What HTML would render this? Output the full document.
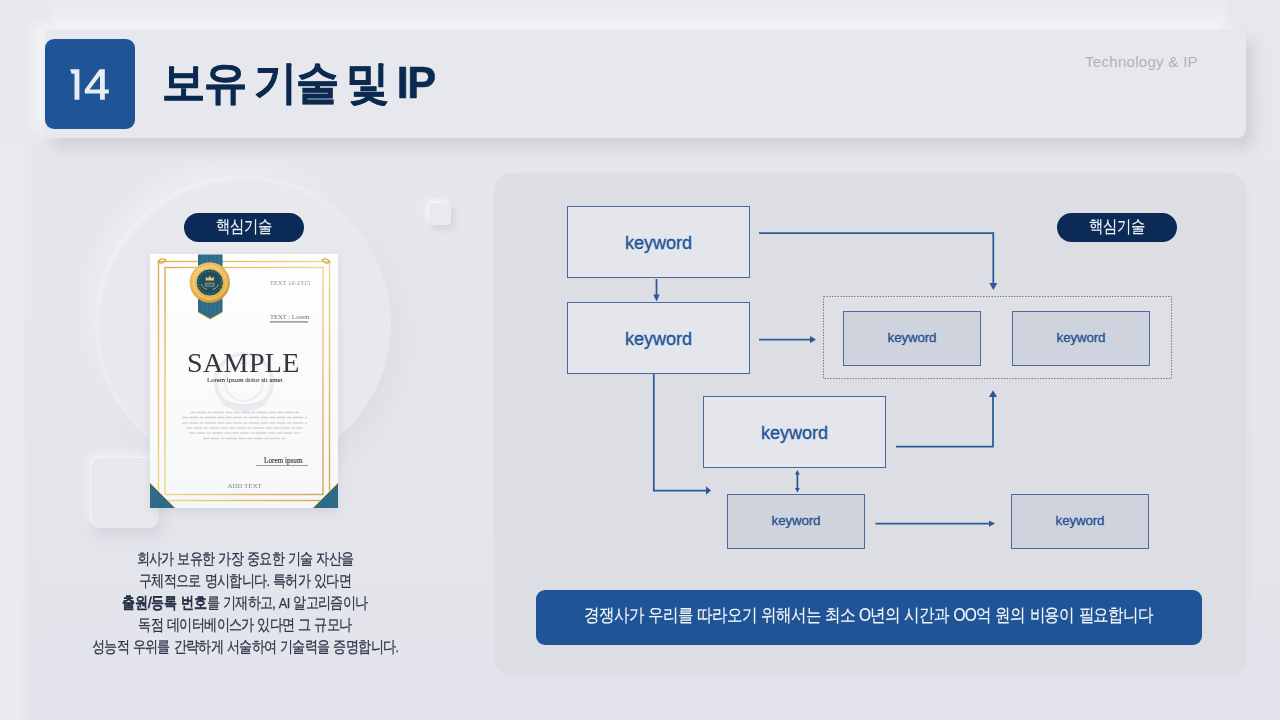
<!DOCTYPE html>
<html><head><meta charset="utf-8">
<style>
*{margin:0;padding:0;box-sizing:border-box}
html,body{width:1280px;height:720px;overflow:hidden}
body{position:relative;background:linear-gradient(#e7e8ec,#e3e4eb);font-family:"Liberation Sans",sans-serif}
.abs{position:absolute}
#topband{left:50px;top:-6px;width:1176px;height:36px;border-radius:0 0 14px 14px;background:linear-gradient(#e8e9ed,#eceef1 65%,#eef0f3);filter:blur(3px)}
#hdr{left:45px;top:30px;width:1201px;height:108px;background:#e7e8ed;border-radius:0 9px 9px 0;
 box-shadow:8px 10px 14px rgba(176,179,191,.42),-14px -6px 16px rgba(255,255,255,.5)}
#num{left:45px;top:39px;width:90px;height:90px;background:#1f5496;border-radius:9px;color:#eef1f6;
 font-size:44px;text-align:center;line-height:92px;letter-spacing:-3px;text-indent:-3px;-webkit-text-stroke:.7px #eef1f6}
#title{left:162px;top:53px;font-size:45px;font-weight:bold;color:#0c2a50;letter-spacing:-1.5px;word-spacing:-2px;white-space:nowrap;line-height:normal;transform-origin:0 0;transform:scaleX(.96);-webkit-text-stroke:.6px #0c2a50}
#tech{left:1085px;top:53px;font-size:15px;color:#b0b2b9;white-space:nowrap;letter-spacing:0.3px}
.pill{width:120px;height:29px;border-radius:15px;background:#0b2b56;color:#eef2f8;font-size:17px;text-align:center;line-height:28px;letter-spacing:-0.5px}
.pill span{display:inline-block;transform:scaleX(.84);-webkit-text-stroke:.15px #eef2f8}
#circle{left:95px;top:176px;width:296px;height:296px;border-radius:50%;background:#e8e9ed;
 box-shadow:8px 10px 22px rgba(190,193,203,.22),-8px -8px 20px rgba(255,255,255,.35),inset 3px 3px 4px rgba(255,255,255,.35)}
#sq1{left:429px;top:203px;width:22px;height:22px;border-radius:4px;background:#e9eaee;
 box-shadow:3px 4px 6px rgba(175,178,190,.35),-3px -3px 5px rgba(255,255,255,.7)}
#sq2{left:90px;top:457px;width:69px;height:71px;border-radius:10px;background:#e8e9ee;
 box-shadow:4px 8px 12px rgba(180,183,195,.3),-4px -4px 8px rgba(255,255,255,.45),inset 1px 1px 1px rgba(255,255,255,.6)}
#rpanel{left:494px;top:173px;width:752px;height:503px;background:#dcdee4;border-radius:19px;filter:blur(.6px);
 box-shadow:2px 2px 5px rgba(200,202,212,.15)}
.box{position:absolute;border:1px solid #4669a5;color:#22559a;text-align:center;-webkit-text-stroke:0.35px #22559a}
.big{width:183px;height:72px;background:#e4e6ec;font-size:18px;line-height:72px}
.small{width:138px;height:55px;background:#ced3dd;font-size:13.3px;line-height:52px;border-width:1.3px;border-color:#4f6b99;color:#23508f;-webkit-text-stroke:0.3px #23508f;letter-spacing:-.1px}
#para{left:-55px;top:547.5px;width:600px;text-align:center;font-size:15.5px;line-height:22.2px;color:#2c3649;letter-spacing:-0.8px;word-spacing:1px;transform-origin:300px 0;transform:scaleX(.816);-webkit-text-stroke:.25px #2c3649}
#para b{color:#1f2b42;font-weight:normal;-webkit-text-stroke:.8px #1f2b42;letter-spacing:-.3px}
#banner{left:536px;top:590px;width:666px;height:55px;background:#1f5496;border-radius:9px;color:#f4f6fa;font-size:18px;text-align:center;line-height:51px;letter-spacing:-0.8px;word-spacing:1px;white-space:nowrap}
#banner span{display:inline-block;transform:scaleX(.862);-webkit-text-stroke:.15px #f4f6fa}
svg{position:absolute;left:0;top:0}
</style></head>
<body>
<div id="topband" class="abs"></div>
<div class="abs" style="left:-10px;top:140px;width:34px;height:600px;background:#eaebef;filter:blur(6px)"></div>
<div id="circle" class="abs"></div>
<div id="sq1" class="abs"></div>
<div id="sq2" class="abs"></div>
<div id="hdr" class="abs"></div>
<div id="num" class="abs"></div>
<svg width="1280" height="140" viewBox="0 0 1280 140"><g fill="#e9edf3" fill-rule="evenodd">
 <path d="M70.2 69.3 H79.4 V99.8 H74.5 V73.8 H71.6 Z"/>
 <path d="M99.6 69.3 H104.8 V89.6 H108.8 V93.4 H104.8 V99.8 H100 V93.4 H84.8 V89.6 Z M100 75.8 V89.6 H89.6 Z"/>
</g></svg>
<div id="title" class="abs">보유 기술 및 IP</div>
<div id="tech" class="abs">Technology &amp; IP</div>

<div id="rpanel" class="abs"></div>

<div class="pill abs" style="left:184px;top:213px"><span>핵심기술</span></div>
<div class="pill abs" style="left:1057px;top:213px"><span>핵심기술</span></div>

<svg width="1280" height="720" viewBox="0 0 1280 720" style="filter:drop-shadow(0 3px 5px rgba(150,155,170,.25))">
 <defs>
  <linearGradient id="paper" x1="0" y1="0" x2="0" y2="1"><stop offset="0" stop-color="#fefefe"/><stop offset="1" stop-color="#f6f7f8"/></linearGradient>
  <linearGradient id="gold" x1="0" y1="0" x2="1" y2="1"><stop offset="0" stop-color="#d9ad5c"/><stop offset=".5" stop-color="#f2d784"/><stop offset="1" stop-color="#d2a552"/></linearGradient>
  <radialGradient id="med" cx=".45" cy=".4" r=".65"><stop offset="0" stop-color="#fbe3a0"/><stop offset=".7" stop-color="#eab552"/><stop offset="1" stop-color="#c98f2e"/></radialGradient>
 </defs>
 <rect x="150" y="254" width="188" height="254" fill="url(#paper)"/>
 <!-- watermark -->
 <circle cx="244" cy="382" r="28" fill="none" stroke="#ebecef" stroke-width="4"/><circle cx="244" cy="382" r="19" fill="none" stroke="#eeeff2" stroke-width="2"/><path d="M226 400 q18 8 36 0 l3 5 q-21 9 -42 0 z" fill="#e8e9ec"/>
 <g fill="none" stroke="url(#gold)" stroke-width="1.4">
  <rect x="158.5" y="261.5" width="171" height="239"/>
  <rect x="165" y="267.5" width="158" height="227"/>
 </g>
 <g fill="none" stroke="#d9a840" stroke-width="1.2">
  <path d="M158 262 q3 -5 8 -2 q-3 5 -8 2 z"/>
  <path d="M330 262 q-3 -5 -8 -2 q3 5 8 2 z"/>
 </g>
 <!-- ribbon -->
 <path d="M198 254.5 H222.5 V312 L210.3 319 L198 312 Z" fill="#2d6b87"/>
 <path d="M203 254.5 V311 M207 254.5 V313 M211 254.5 V313 M215 254.5 V313 M219 254.5 V311" stroke="#3a7c98" stroke-width="1"/>
 <path d="M198 312 L210.3 319 L222.5 312" fill="none" stroke="#d9a840" stroke-width="1"/>
 <circle cx="209.8" cy="282.5" r="20.2" fill="url(#med)"/>
 <circle cx="209.8" cy="282.5" r="16.5" fill="none" stroke="#f6d98e" stroke-width="1" opacity=".8"/>
 <circle cx="209.8" cy="282.5" r="13.6" fill="#1c4e60" stroke="#e9b955" stroke-width="1"/>
 <circle cx="209.8" cy="282.5" r="11.3" fill="none" stroke="#d8b25e" stroke-width="1" stroke-dasharray=".8 2.2" opacity=".8"/>
 <path d="M205.5 280.5 L206 276.5 L208 278.5 L209.8 275.5 L211.6 278.5 L213.6 276.5 L214.1 280.5 Z" fill="#f0c765"/>
 <rect x="205.5" y="283" width="8.6" height="3.2" fill="#3c6f82" stroke="#d9b460" stroke-width=".5"/>
 <path d="M201 284 q2 5 6 5.5 M218.6 284 q-2 5 -6 5.5" fill="none" stroke="#c9a24e" stroke-width=".9"/>
 <!-- texts -->
 <g font-family="Liberation Serif" fill="#8a8c92">
  <text x="270" y="285" font-size="6" letter-spacing=".3">TEXT 10-2315</text>
  <text x="270" y="318.5" font-size="6.6" fill="#6d6f75">TEXT : Lorem</text>
  <text x="207" y="382" font-size="6.8" fill="#45474f" stroke="#45474f" stroke-width=".12">Lorem ipsum dolor sit amet</text>
  <text x="264" y="462.5" font-size="7.2" fill="#3a3c44" stroke="#3a3c44" stroke-width=".15">Lorem ipsum</text>
  <text x="227.5" y="488" font-size="6.9" fill="#85878d">ADD TEXT</text>
 </g>
 <rect x="270" y="321" width="38" height="1.8" fill="#a4a6ab"/>
 <rect x="256" y="465" width="52" height="1" fill="#9a9ca2"/>
 <text x="187" y="371.5" font-family="Liberation Serif" font-size="28" fill="#34363c" letter-spacing=".4">SAMPLE</text>
 <g stroke="#d2d3d7" stroke-width="1.5" stroke-dasharray="6 1.2 9 1.5 4 1.2 11 1.5 7 1.3">
  <path d="M190 412.5 H299 M182 417.5 H307 M182 423 H307 M186 428 H303 M189 433 H301 M203 438.5 H285"/>
 </g>
 <!-- bottom corners -->
 <path d="M150 483 L150 508 L175 508 Z" fill="#2d6b87"/>
 <path d="M338 483 L338 508 L313 508 Z" fill="#2d6b87"/>
 <path d="M150 483 L175 508 M338 483 L313 508" stroke="#d9b15a" stroke-width="1"/>
</svg>


<div id="para" class="abs">회사가 보유한 가장 중요한 기술 자산을<br>구체적으로 명시합니다. 특허가 있다면<br><b>출원/등록 번호</b>를 기재하고, AI 알고리즘이나<br>독점 데이터베이스가 있다면 그 규모나<br>성능적 우위를 간략하게 서술하여 기술력을 증명합니다.</div>

<svg width="1280" height="720" viewBox="0 0 1280 720"><rect x="823.5" y="296.5" width="348" height="82" fill="rgba(228,230,236,.35)" stroke="#6f7685" stroke-width="1" stroke-dasharray="1.4 1.4"/></svg>
<div class="box big" style="left:567px;top:206px">keyword</div>
<div class="box big" style="left:567px;top:302px">keyword</div>
<div class="box big" style="left:703px;top:396px">keyword</div>
<div class="box small" style="left:843px;top:311px">keyword</div>
<div class="box small" style="left:1012px;top:311px">keyword</div>
<div class="box small" style="left:727px;top:494px">keyword</div>
<div class="box small" style="left:1011px;top:494px">keyword</div>

<svg width="1280" height="720" viewBox="0 0 1280 720">
 <g fill="none" stroke="#2b5897" stroke-width="1.75">
  <path d="M656.5 279 V296"/>
  <path d="M759 233 H993.3 V284"/>
  <path d="M759 339.6 H811"/>
  <path d="M896 446.6 H993 V396"/>
  <path d="M653.8 374 V490.5 H707"/>
  <path d="M797.4 473 V489.5"/>
  <path d="M875.5 523.6 H990"/>
 </g>
 <g fill="#2b5897">
  <path d="M653.3 294.5 L659.7 294.5 L656.5 301.5 Z"/>
  <path d="M989.3 283 L997.3 283 L993.3 290 Z"/>
  <path d="M810 336 L816 339.6 L810 343.2 Z"/>
  <path d="M989 397 L997 397 L993 390.3 Z"/>
  <path d="M706 486.3 L711 490.5 L706 494.7 Z"/>
  <path d="M795 474.5 L799.8 474.5 L797.4 470 Z"/>
  <path d="M795 488 L799.8 488 L797.4 492.6 Z"/>
  <path d="M989 520.4 L995 523.6 L989 526.8 Z"/>
 </g>
</svg>

<div id="banner" class="abs"><span>경쟁사가 우리를 따라오기 위해서는 최소 O년의 시간과 OO억 원의 비용이 필요합니다</span></div>
</body></html>
